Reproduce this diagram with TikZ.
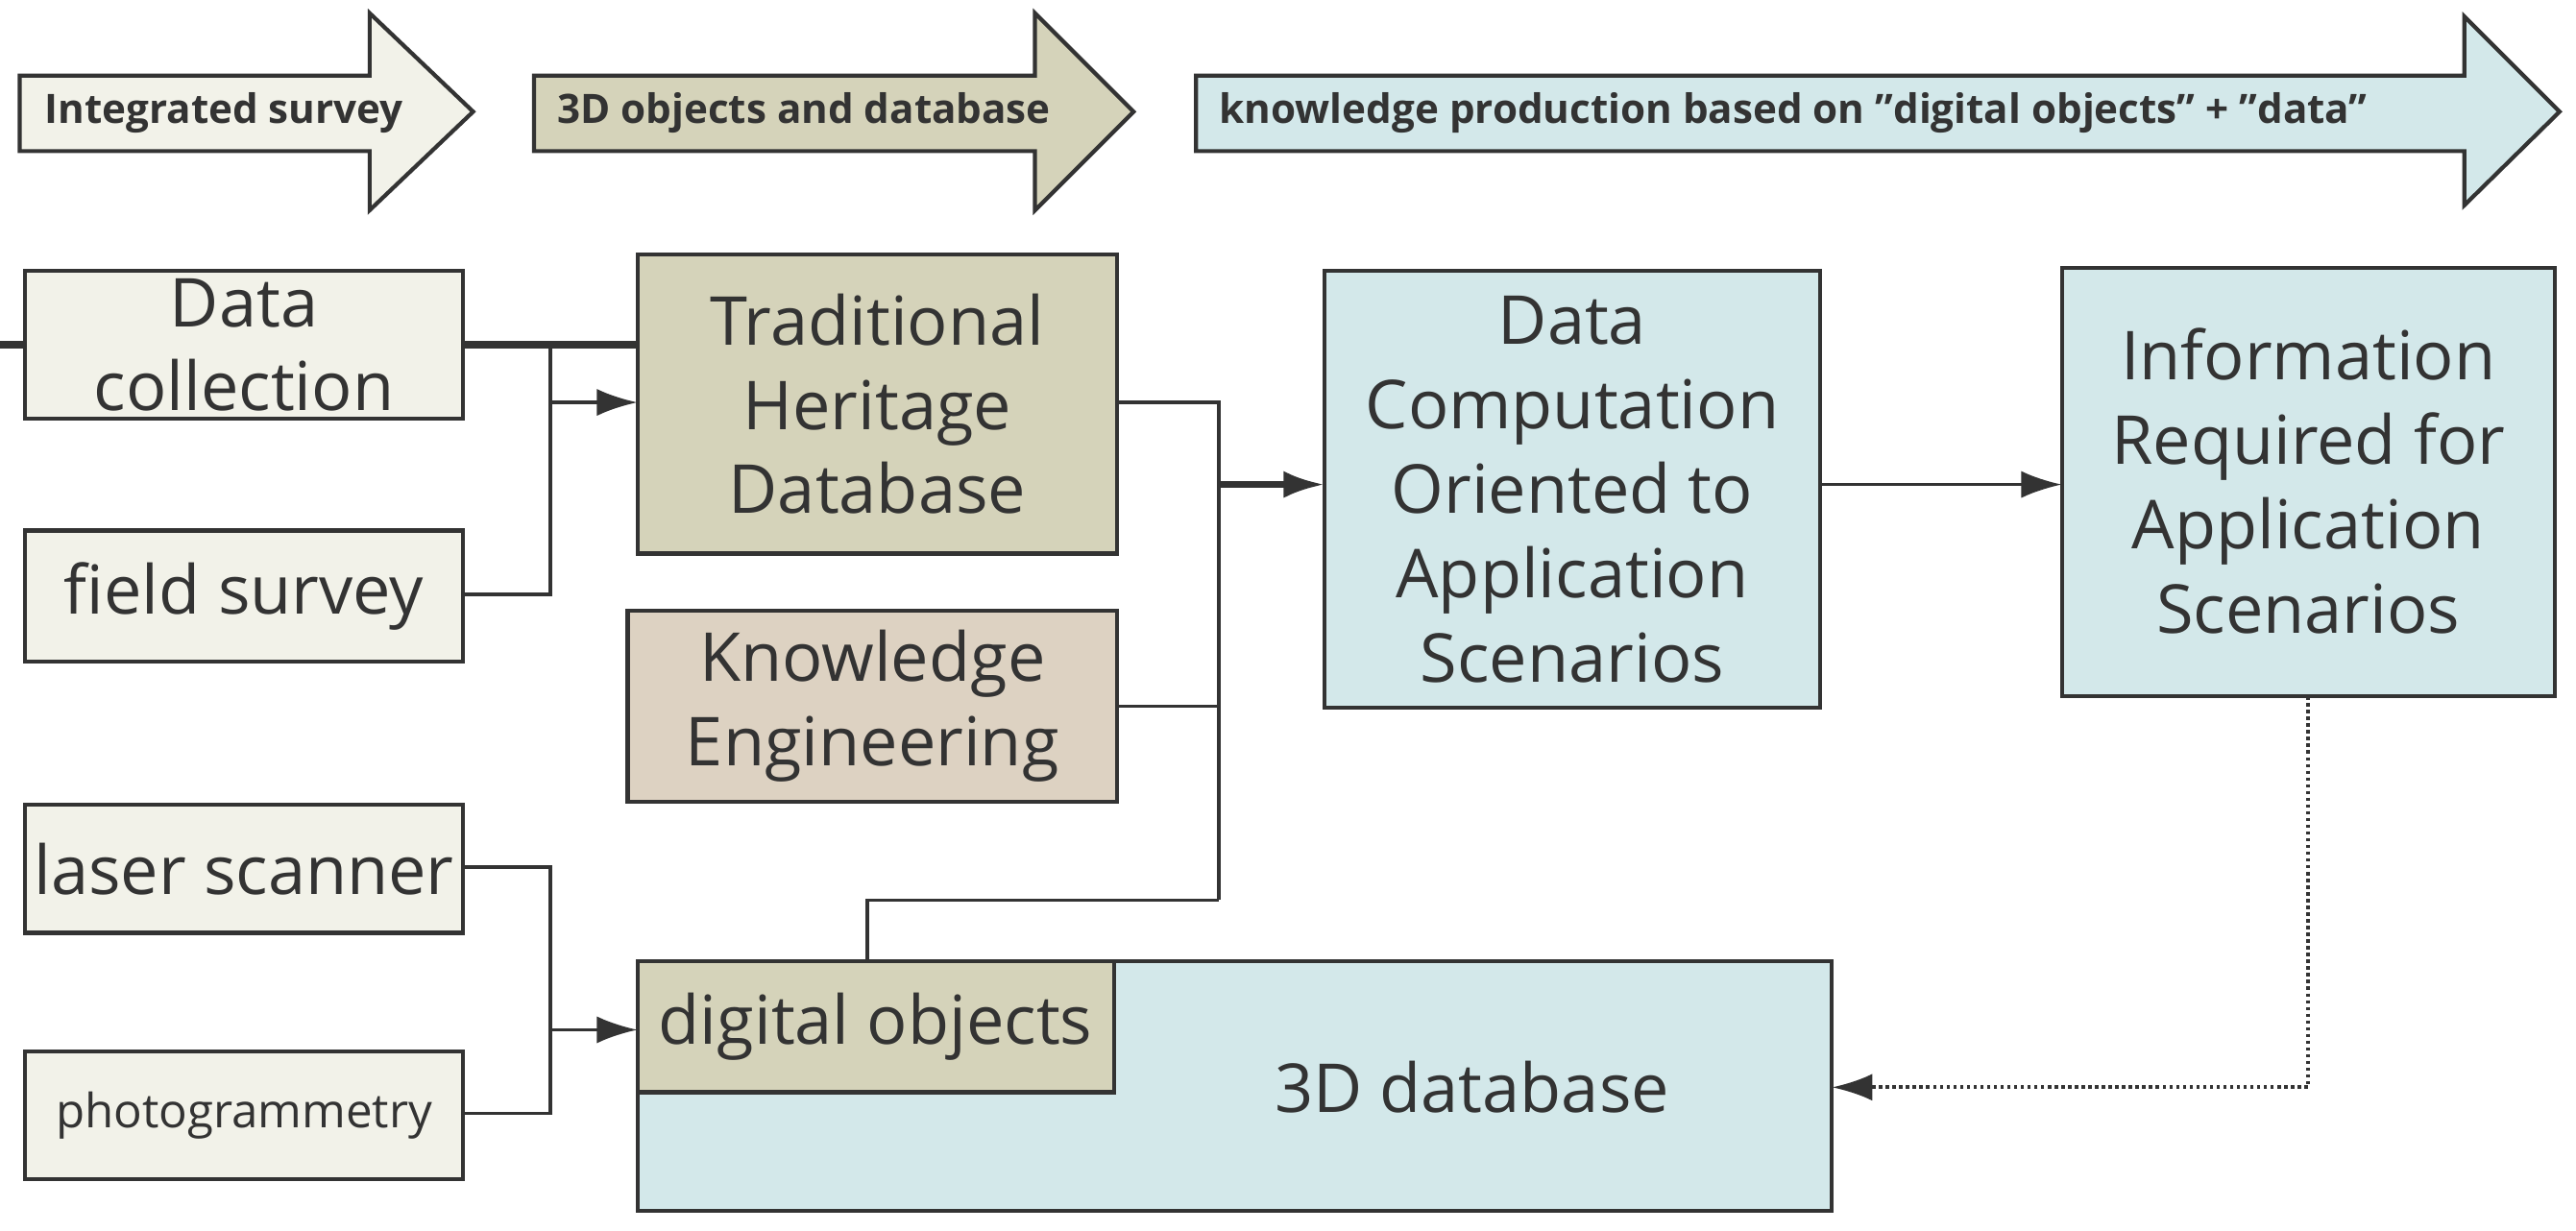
\documentclass[tikz,border=0pt]{standalone}
\usepackage{fontspec}
\setmainfont{Open Sans}
\usetikzlibrary{arrows.meta}
\definecolor{cream}{HTML}{F2F2E9}
\definecolor{olive}{HTML}{D5D3BA}
\definecolor{tan}{HTML}{DDD2C2}
\definecolor{lblue}{HTML}{D3E8EA}
\definecolor{edge}{HTML}{333333}
\begin{document}
\begin{tikzpicture}[x=0.017105cm,y=-0.017105cm,
  box/.style={draw=edge,line width=1.2pt,align=center,font=\fontsize{20}{25}\selectfont,text=edge,inner sep=0pt},
  lab/.style={font=\bfseries\fontsize{12}{14}\selectfont,text=edge,anchor=west},
  tarrow/.style={draw=edge,line width=1.2pt},
  con/.style={draw=edge,line width=1pt},
  arr/.style={con,-{Latex[length=12pt,width=8pt]}}]
\useasboundingbox (0,0) rectangle (1568,749);
% top arrows
\draw[tarrow,fill=cream] (12,46)--(225,46)--(225,8)--(288,68)--(225,128)--(225,92)--(12,92)--cycle;
\node[lab] (a1) at (20,69) {Integrated survey};
\draw[tarrow,fill=olive] (325,46)--(630,46)--(630,8)--(690,68)--(630,128)--(630,92)--(325,92)--cycle;
\node[lab] (a2) at (332,69) {3D objects and database};
\draw[tarrow,fill=lblue] (728,46)--(1500,46)--(1500,10)--(1558,68)--(1500,125)--(1500,92)--(728,92)--cycle;
\node[lab] (a3) at (735,69) {knowledge production based on "digital objects" + "data"};
% boxes
\node[box,fill=cream,minimum width=267\pgflinewidth] (dc) at (148.5,210) {};
\path[box,fill=cream] (15,165) rectangle (282,255);
\node[box,draw=none] (dct) at (148.5,210) {Data\\collection};
\path[box,fill=cream] (15,323) rectangle (282,403);
\node[box,draw=none] (fs) at (148.5,363) {field survey};
\path[box,fill=cream] (15,490) rectangle (282,568);
\node[box,draw=none] (ls) at (148.5,529) {laser scanner};
\path[box,fill=cream] (15,640) rectangle (282,718);
\node[box,draw=none,font=\fontsize{14}{16}\selectfont] (ph) at (148.5,679) {photogrammetry};
\path[box,fill=olive] (388,155) rectangle (680,337);
\node[box,draw=none] (thd) at (534,246) {Traditional\\Heritage\\Database};
\path[box,fill=tan] (382,372) rectangle (680,488);
\node[box,draw=none] (ke) at (531,430) {Knowledge\\Engineering};
\path[box,fill=lblue] (806,165) rectangle (1108,431);
\node[box,draw=none] (dcomp) at (957,298) {Data\\Computation\\Oriented to\\Application\\Scenarios};
\path[box,fill=lblue] (1255,163) rectangle (1555,424);
\node[box,draw=none] (info) at (1405,293) {Information\\Required for\\Application\\Scenarios};
\path[box,fill=lblue] (388,585) rectangle (1115,737);
\node[box,draw=none] (db) at (896,662) {3D database};
\path[box,fill=olive] (388,585) rectangle (678,665);
\node[box,draw=none] (dob) at (533,625) {digital objects};
% coordinates
\coordinate (j1) at (335,245);
\coordinate (j2) at (335,627);
\coordinate (j3) at (742,295);
\coordinate (j4) at (742,548);
% connectors
\draw[con] (282,210) -| (335,362) -- (282,362);
\draw[arr] (j1) -- (388,245);
\draw[con] (282,528) -| (335,678) -- (282,678);
\draw[arr] (j2) -- (388,627);
\draw[con] (680,245) -| (j4);
\draw[con] (680,430) -- (742,430);
\draw[con] (528,585) |- (j4);
\draw[arr,line width=1.8pt] (j3) -- (806,295);
\draw[arr] (1108,295) -- (1255,295);
\draw[arr,densely dotted,line width=1.2pt] (1405,424) |- (1115,662);
\end{tikzpicture}
\end{document}
